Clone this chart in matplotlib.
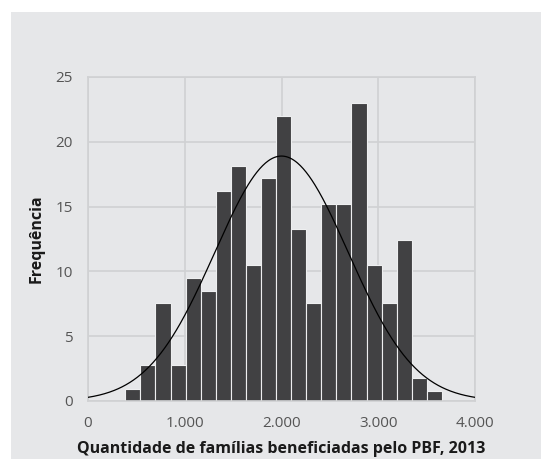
import numpy as np
import matplotlib
matplotlib.use("Agg")
import matplotlib.pyplot as plt
from matplotlib.patches import Rectangle

# Histograma: início da primeira classe, largura e frequências
bin_start = 386
bin_width = 155.8
freq = [0.9, 2.8, 7.6, 2.8, 9.5, 8.5, 16.2, 18.1, 10.5, 17.2, 22.0,
        13.3, 7.6, 15.2, 15.2, 23.0, 10.5, 7.6, 12.4, 1.8, 0.8]

# Curva normal ajustada
curve_mean = 2000
curve_sd = 690
curve_peak = 18.9

xticks = [0, 1000, 2000, 3000, 4000]
xtick_labels = ["0", "1.000", "2.000", "3.000", "4.000"]
yticks = [0, 5, 10, 15, 20, 25]

plt.rcParams['font.family'] = ['Open Sans', 'DejaVu Sans']

W, H = 541, 459
fig = plt.figure(figsize=(W / 100, H / 100), dpi=100)
fig.patch.set_facecolor("white")
fig.patches.append(Rectangle((11 / W, 0), 1, 1 - 12 / H, transform=fig.transFigure,
                             facecolor="#e6e7e9", edgecolor="none", zorder=-10))

ax = fig.add_axes([88 / W, 1 - 401 / H, (475 - 88) / W, (401 - 77) / H])
ax.set_facecolor("#e6e7e9")

edges = bin_start + bin_width * np.arange(len(freq))
ax.bar(edges, freq, width=bin_width, align="edge", color="#414143",
       edgecolor="#eeeff0", linewidth=0.8, zorder=2)

xs = np.linspace(0, 4000, 400)
ys = curve_peak * np.exp(-0.5 * ((xs - curve_mean) / curve_sd) ** 2)
ax.plot(xs, ys, color="black", linewidth=0.9, zorder=3)

ax.set_xlim(0, 4000)
ax.set_ylim(0, 25)
ax.set_xticks(xticks)
ax.set_xticklabels(xtick_labels)
ax.set_yticks(yticks)
ax.grid(True, color="#d0d1d3", linewidth=1.2, zorder=1)
ax.set_axisbelow(True)
ax.tick_params(length=0, labelsize=11, colors="#555555")
ax.tick_params(axis="y", pad=11)
ax.tick_params(axis="x", pad=11)
for sp in ax.spines.values():
    sp.set_edgecolor("#d0d1d3")
    sp.set_linewidth(1.2)

ax.set_xlabel("Quantidade de famílias beneficiadas pelo PBF, 2013",
              fontsize=11.5, fontweight="bold", color="#1a1a1a", labelpad=7)
ax.set_ylabel("Frequência", fontsize=11.5, fontweight="bold",
              color="#1a1a1a", labelpad=8)

fig.savefig("out.png", dpi=100, facecolor="white")
